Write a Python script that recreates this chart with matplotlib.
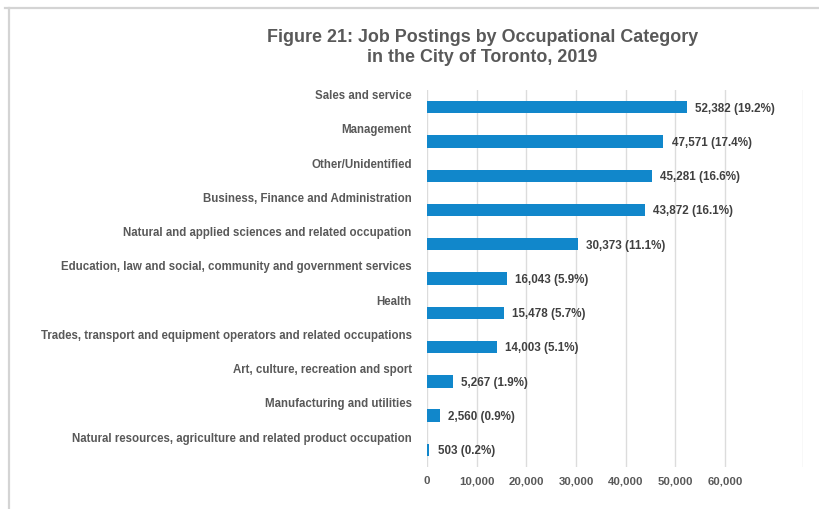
import matplotlib
matplotlib.use("Agg")
import matplotlib.pyplot as plt
from matplotlib.lines import Line2D

# categories top -> bottom
CATS = ["Sales and service", "Management", "Other/Unidentified",
        "Business, Finance and Administration",
        "Natural and applied sciences and related occupation",
        "Education, law and social, community and government services",
        "Health",
        "Trades, transport and equipment operators and related occupations",
        "Art, culture, recreation and sport", "Manufacturing and utilities",
        "Natural resources, agriculture and related product occupation"]
POSTINGS = [52382, 47571, 45281, 43872, 30373, 16043, 15478, 14003, 5267, 2560, 503]
SHARE = [19.2, 17.4, 16.6, 16.1, 11.1, 5.9, 5.7, 5.1, 1.9, 0.9, 0.2]
XTICKS = [0, 10000, 20000, 30000, 40000, 50000, 60000]

BLUE = "#1187cb"; TXT = "#595959"; VAL = "#404040"; GRID = "#dcdcdc"; FRAME = "#d4d4d4"
plt.rcParams["font.family"] = ["Liberation Sans", "DejaVu Sans"]

fig = plt.figure(figsize=(8.2, 5.09), dpi=100)
ax = fig.add_axes([0.5207, 0.0825, 0.4585, 0.7405])
y = list(range(len(CATS)))
ax.barh(y, POSTINGS, height=0.36, color=BLUE, zorder=3)
ax.set_ylim(len(CATS) - 0.5, -0.5)
ax.set_xlim(0, 75700)
ax.set_xticks(XTICKS)
ax.set_xticklabels([f"{v:,}" for v in XTICKS], fontsize=8.2, color=TXT, fontweight="bold")
ax.tick_params(axis="x", length=0, pad=6.5)
ax.set_yticks([])
for s in ax.spines.values(): s.set_visible(False)
for v in XTICKS + [75700]:
    ax.axvline(v, color=GRID, lw=1, zorder=1)

for i, (c, v, p) in enumerate(zip(CATS, POSTINGS, SHARE)):
    ax.annotate(c, (0, i), xytext=(-11, 8), textcoords="offset points", ha="right", va="center",
                fontsize=8.3, color=TXT, fontweight="bold")
    ax.annotate(f"{v:,} ({p}%)", (v, i), xytext=(6, -1), textcoords="offset points", ha="left",
                va="center", fontsize=8.4, color=VAL, fontweight="bold")

fig.text(0.588, 0.907, "Figure 21: Job Postings by Occupational Category\nin the City of Toronto, 2019",
         ha="center", va="center", fontsize=12.9, color=TXT, fontweight="bold", linespacing=1.2)

fig.add_artist(Line2D([9 / 820, 9 / 820], [0, 1 - 8 / 509], color=FRAME, lw=1.6, transform=fig.transFigure))
fig.add_artist(Line2D([5 / 820, 1], [1 - 8 / 509, 1 - 8 / 509], color=FRAME, lw=1.6, transform=fig.transFigure))

fig.savefig("out.png", dpi=100, facecolor="white")
